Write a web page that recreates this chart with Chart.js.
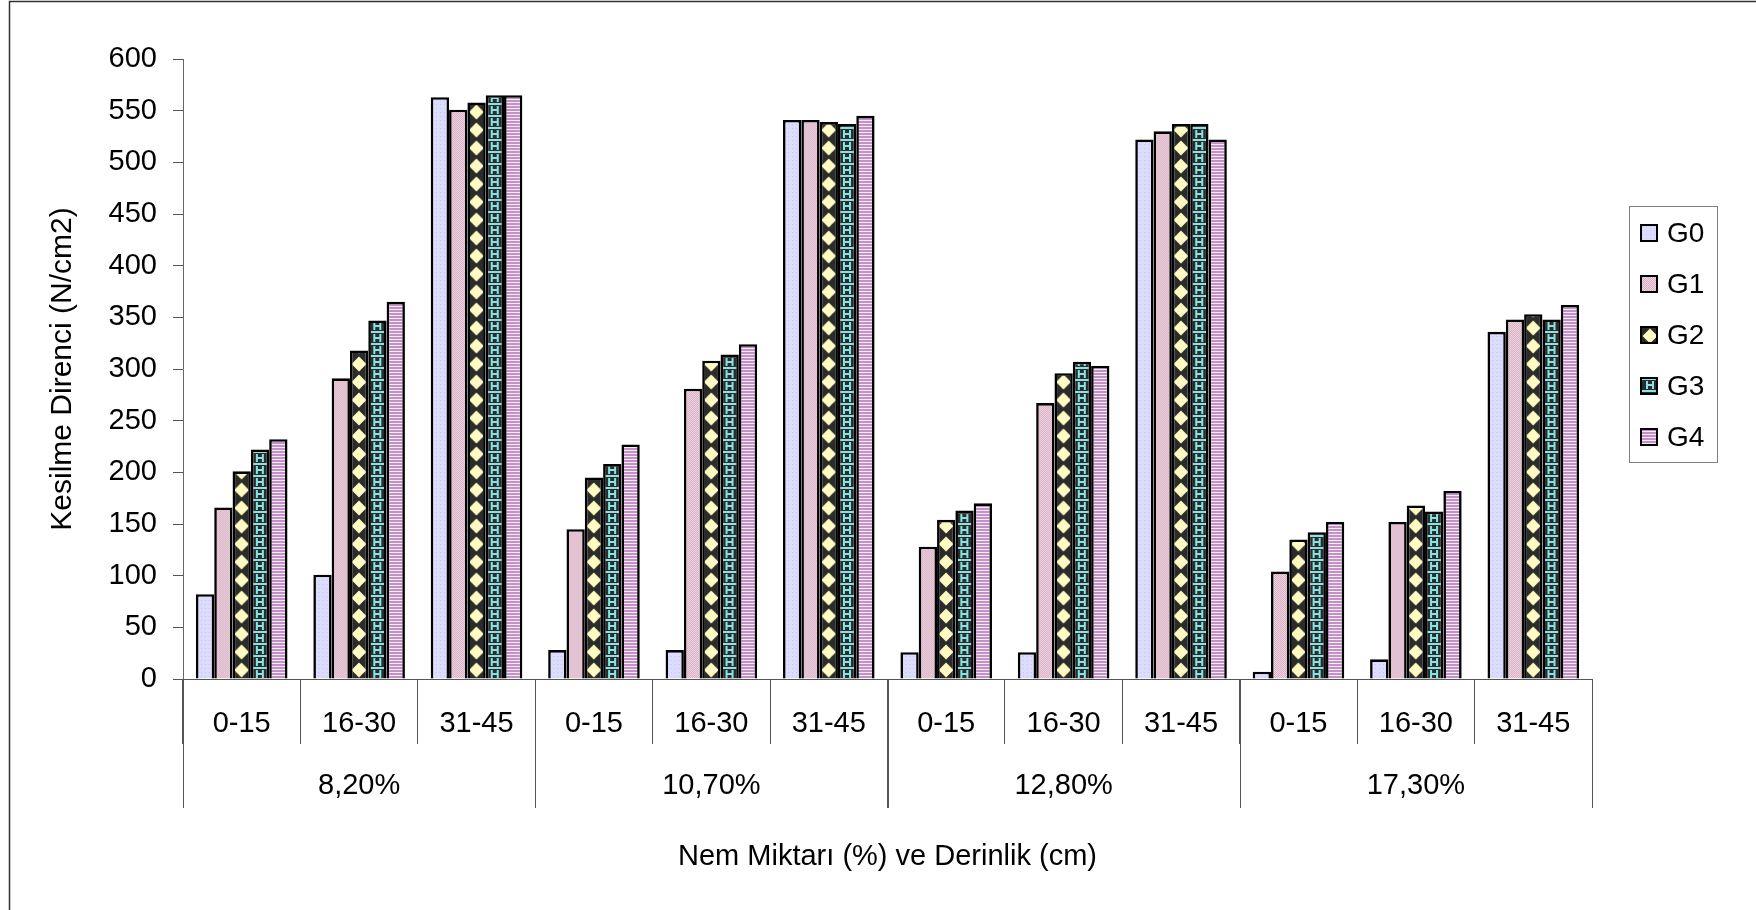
<!DOCTYPE html>
<html>
<head>
<meta charset="utf-8">
<script src="https://cdn.jsdelivr.net/npm/chart.js@4.4.1/dist/chart.umd.min.js"></script>
<style>
  html, body { margin: 0; padding: 0; background: #fff; }
  #wrap { width: 1756px; height: 910px; }
</style>
</head>
<body>
<div id="wrap"><canvas id="chart"></canvas></div>
<script>
const depths = ['0-15', '16-30', '31-45'];
const groups = ['8,20%', '10,70%', '12,80%', '17,30%'];
const catLabels = groups.flatMap(() => depths);
const seriesNames = ['G0', 'G1', 'G2', 'G3', 'G4'];
const g0 = [82, 101, 563, 28, 28, 541, 26, 26, 522, 7, 19, 336];
const g1 = [166, 291, 551, 145, 281, 541, 128, 267, 530, 104, 152, 348];
const g2 = [201, 318, 558, 195, 308, 539, 154, 296, 537, 135, 168, 353];
const g3 = [222, 347, 565, 208, 314, 537, 163, 307, 537, 142, 162, 348];
const g4 = [232, 365, 565, 227, 324, 545, 170, 303, 522, 152, 182, 362];
const yTicks = { min: 0, max: 600, step: 50 };

const FONT = '"Liberation Sans", Arial, sans-serif';
const CAT_PCT = 0.78;

function tile(w, h, paint) {
    const c = document.createElement('canvas');
    c.width = w; c.height = h;
    paint(c.getContext('2d'));
    return c;
}

function diamond(g, cx, cy, r) {
    g.beginPath();
    g.moveTo(cx, cy - r); g.lineTo(cx + r, cy); g.lineTo(cx, cy + r); g.lineTo(cx - r, cy);
    g.closePath(); g.fill();
}

// fill patterns, one per series
const tiles = [
    tile(4, 4, g => { g.fillStyle = '#dcdcfe'; g.fillRect(0, 0, 4, 4); g.fillStyle = '#c4c4f0'; g.fillRect(1, 1, 1, 1); }),
    tile(2, 2, g => { g.fillStyle = '#eed6e2'; g.fillRect(0, 0, 2, 2); g.fillStyle = '#d8aec4'; g.fillRect(0, 0, 1, 1); g.fillRect(1, 1, 1, 1); }),
    tile(18, 18, g => {
        g.fillStyle = '#2b2b2b'; g.fillRect(0, 0, 18, 18);
        g.fillStyle = '#fffcc2';
        diamond(g, 9, 9, 7.5);
    }),
    tile(18, 12, g => {
        g.fillStyle = '#2c2c2c'; g.fillRect(0, 0, 18, 12);
        g.fillStyle = '#88e4e4';
        g.fillRect(0, 0, 18, 2);
        g.fillRect(5, 3, 2, 8); g.fillRect(11, 3, 2, 8);
        g.fillRect(5, 6, 8, 2);
    }),
    tile(1, 3, g => { g.fillStyle = '#c391c8'; g.fillRect(0, 0, 1, 2); g.fillStyle = '#f6ecf6'; g.fillRect(0, 2, 1, 1); })
];

function patternAt(ctx, i, x, y) {
    const p = ctx.createPattern(tiles[i], 'repeat');
    p.setTransform(new DOMMatrix([1, 0, 0, 1, x, y]));
    return p;
}

function barFill(c) {
    const i = c.datasetIndex;
    if (c.dataIndex === undefined) return '#ccc';
    const x = c.chart.scales.x;
    const catW = x.width / catLabels.length;
    const barW = catW * CAT_PCT / seriesNames.length;
    const left = x.getPixelForValue(c.dataIndex) + (i - seriesNames.length / 2) * barW;
    return patternAt(c.chart.ctx, i, left, c.chart.scales.y.bottom);
}

const decor = {
    id: 'decor',
    beforeDraw(chart) {
        const c = chart.ctx;
        c.save();
        c.fillStyle = '#fff';
        c.fillRect(0, 0, chart.width, chart.height);
        c.strokeStyle = '#333'; c.lineWidth = 1.5;
        c.beginPath(); c.moveTo(9.5, chart.height); c.lineTo(9.5, 1.5); c.lineTo(chart.width, 1.5); c.stroke();
        c.restore();
    },
    afterDraw(chart) {
        const c = chart.ctx, x = chart.scales.x;
        const half = (x.getPixelForValue(1) - x.getPixelForValue(0)) / 2;
        c.save();
        c.strokeStyle = '#555'; c.lineWidth = 1;
        c.fillStyle = '#000';
        c.font = '29px ' + FONT;
        c.textAlign = 'center'; c.textBaseline = 'middle';
        groups.forEach((g, i) => {
            const l = x.getPixelForValue(i * depths.length) - half;
            const r = x.getPixelForValue((i + 1) * depths.length - 1) + half;
            [l, r].forEach(px => {
                c.beginPath(); c.moveTo(Math.round(px) + 0.5, x.top); c.lineTo(Math.round(px) + 0.5, 808); c.stroke();
            });
            c.fillText(g, (l + r) / 2, 786);
        });

        // legend box
        c.strokeStyle = '#808080'; c.lineWidth = 1;
        c.strokeRect(1629.5, 206.5, 88, 256);
        c.textAlign = 'left';
        c.font = '28px ' + FONT;
        chart.data.datasets.forEach((ds, i) => {
            const y = 233 + i * 51;
            c.fillStyle = patternAt(c, i, 1641, y - 8);
            c.fillRect(1641, y - 8, 16, 16);
            c.strokeStyle = '#000'; c.lineWidth = 2;
            c.strokeRect(1641, y - 8, 16, 16);
            c.fillStyle = '#000';
            c.fillText(ds.label, 1667, y + 1);
        });
        c.restore();
    }
};

const values = [g0, g1, g2, g3, g4];

new Chart(document.getElementById('chart'), {
    type: 'bar',
    data: {
        labels: catLabels,
        datasets: seriesNames.map((n, i) => ({
            label: n,
            data: values[i],
            backgroundColor: barFill,
            borderColor: '#000',
            borderWidth: 2.6,
            categoryPercentage: CAT_PCT,
            barPercentage: 1
        }))
    },
    options: {
        responsive: true,
        maintainAspectRatio: false,
        animation: false,
        events: [],
        layout: { padding: { top: 59, right: 164, bottom: 0, left: 0 } },
        plugins: { legend: { display: false }, tooltip: { enabled: false } },
        scales: {
            x: {
                grid: { display: true, drawOnChartArea: false, offset: true, tickLength: 65, color: '#555', lineWidth: 1 },
                border: { display: true, color: '#555', width: 1 },
                ticks: { color: '#000', font: { family: FONT, size: 29 }, padding: -37, maxRotation: 0, autoSkip: false },
                title: { display: true, text: 'Nem Miktarı (%) ve Derinlik (cm)', color: '#000', font: { family: FONT, size: 29 }, padding: { top: 0, bottom: 36 } },
                afterFit: s => { s.height = 231; }
            },
            y: {
                min: yTicks.min, max: yTicks.max,
                grid: { display: true, drawOnChartArea: false, tickLength: 10, color: '#555', lineWidth: 1 },
                border: { display: true, color: '#666', width: 1 },
                ticks: { stepSize: yTicks.step, color: '#000', font: { family: FONT, size: 29 }, padding: 16 },
                title: { display: true, text: 'Kesilme Direnci (N/cm2)', color: '#000', font: { family: FONT, size: 30 }, padding: { top: 45, bottom: 0 } },
                afterFit: s => { s.width = 183; }
            }
        }
    },
    plugins: [decor]
});
</script>
</body>
</html>
